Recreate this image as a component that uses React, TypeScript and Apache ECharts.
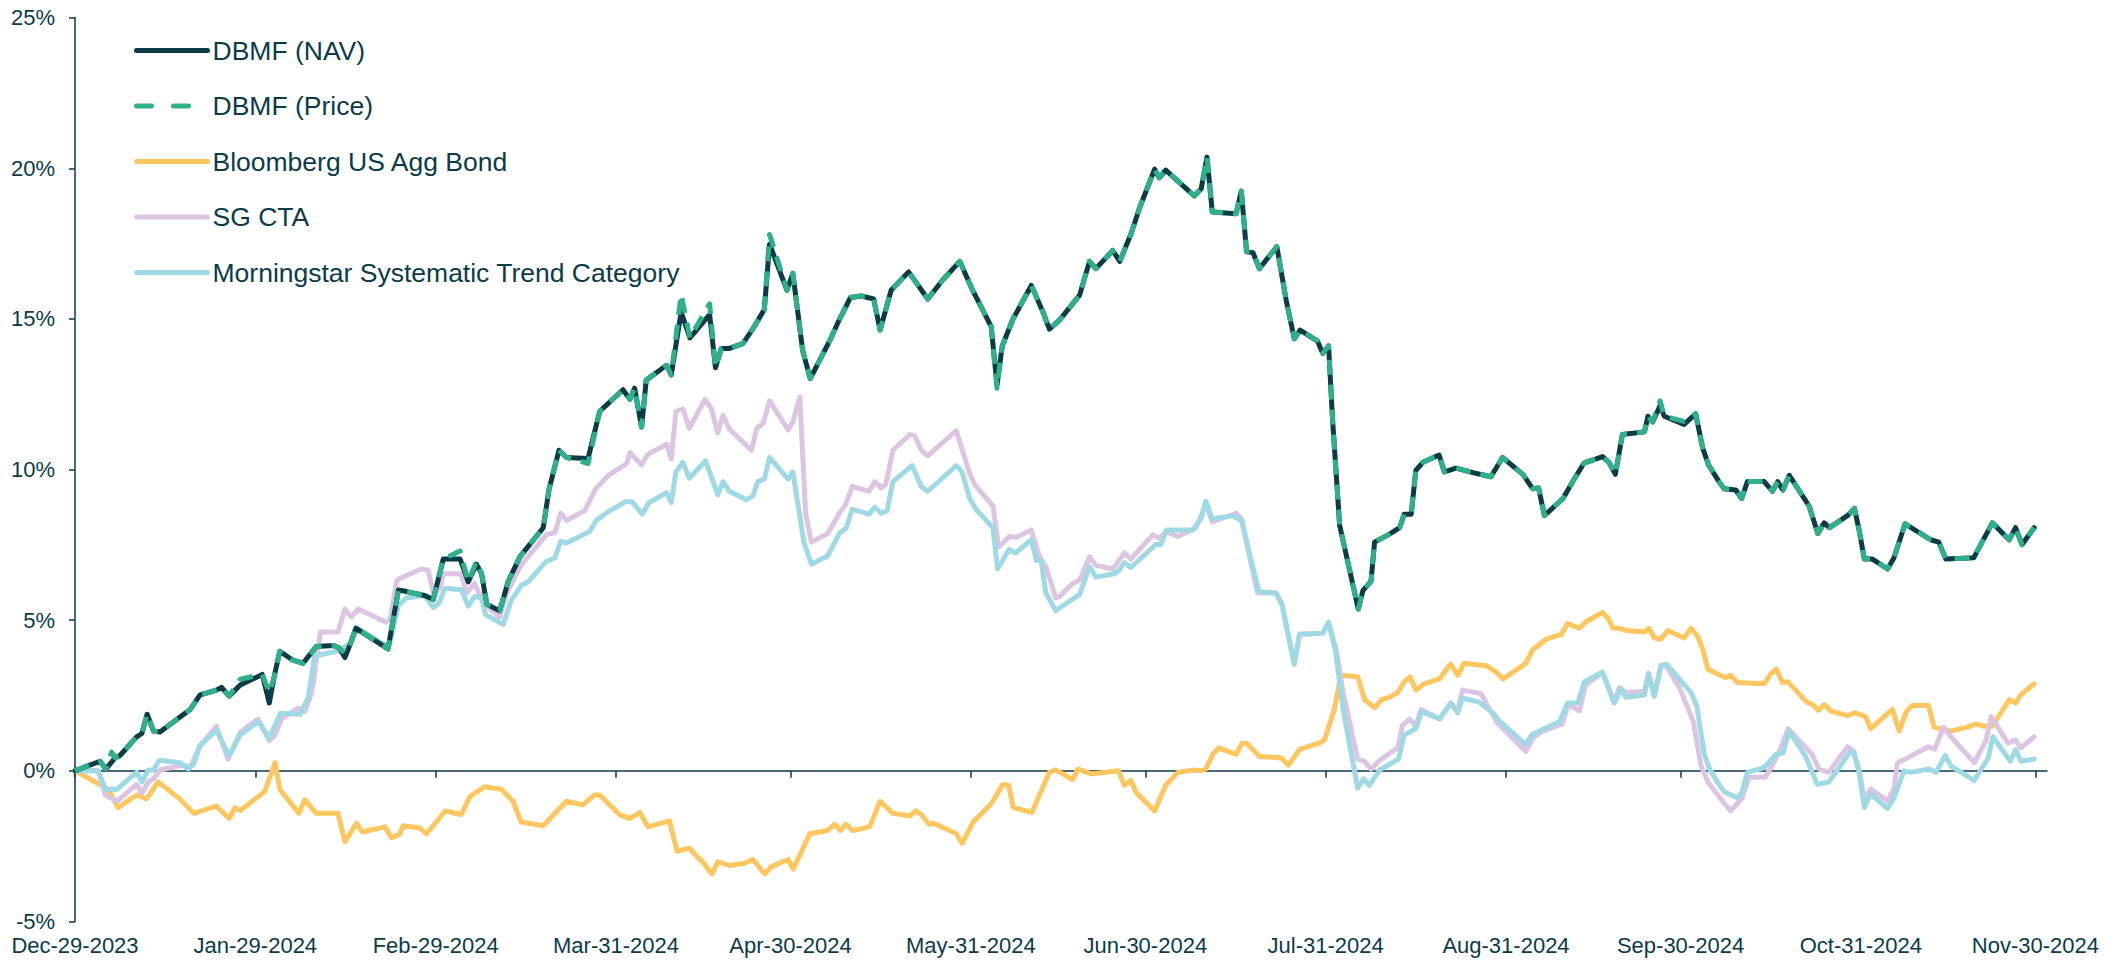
import React, { useEffect, useRef } from "react";
import * as echarts from "echarts";

// x values are calendar days since Dec-29-2023
const tickDays = [0, 31, 62, 93, 123, 154, 184, 215, 246, 276, 307, 337];
const tickLabels = [
  "Dec-29-2023", "Jan-29-2024", "Feb-29-2024", "Mar-31-2024", "Apr-30-2024", "May-31-2024",
  "Jun-30-2024", "Jul-31-2024", "Aug-31-2024", "Sep-30-2024", "Oct-31-2024", "Nov-30-2024",
];
const yTicks = [-5, 0, 5, 10, 15, 20, 25];

const dbmfNav: [number, number][] = [
  [0, 0], [4.3, 0.32], [5.3, 0.06], [6.9, 0.43], [7.7, 0.5], [10.6, 1.13], [11.5, 1.24], [12.4, 1.88], [13.5, 1.32], [14.6, 1.29],
  [19.8, 2.04], [21.5, 2.52], [24.3, 2.68], [25.2, 2.77], [26.5, 2.48], [28.4, 2.85], [32.2, 3.2], [33.4, 2.25], [34.2, 3.09], [35.2, 3.97],
  [37.4, 3.68], [39.2, 3.57], [41.5, 4.13], [44.4, 4.16], [45.4, 4.08], [46.4, 3.76], [47.5, 4.3], [48.3, 4.73], [53.8, 4.05], [55.6, 6.0],
  [57, 5.95], [60.1, 5.82], [61.6, 5.69], [63.3, 7.03], [66.2, 7.03], [67.6, 6.27], [69.0, 6.86], [69.9, 6.54], [70.8, 5.53], [73.0, 5.31],
  [74.5, 6.3], [76.5, 7.11], [80.5, 8.07], [81.5, 9.36], [83.2, 10.64], [84.5, 10.4], [88.2, 10.37], [90.2, 11.93], [94.2, 12.65], [95.4, 12.33],
  [96.2, 12.7], [97.4, 11.41], [98.2, 12.97], [101.7, 13.46], [102.5, 13.14], [104.2, 15.23], [105.7, 14.37], [109.1, 15.14], [110.1, 13.38], [111.1, 14.02],
  [112.5, 14.02], [114.8, 14.18], [116.5, 14.66], [118.5, 15.31], [119.4, 17.48], [122.4, 15.95], [123.4, 16.51], [125.1, 13.94], [126.4, 13.02], [129.7, 14.26],
  [131.4, 14.98], [133.3, 15.71], [135.2, 15.76], [137.3, 15.66], [138.4, 14.63], [140.3, 15.95], [143.3, 16.56], [146.6, 15.66], [149.2, 16.3], [152.1, 16.91],
  [154.1, 16.03], [157.5, 14.74], [158.5, 12.81], [159.4, 14.1], [161.2, 14.98], [164.4, 16.11], [166.4, 15.23], [167.5, 14.66], [169.2, 14.95], [172.7, 15.79],
  [174.4, 16.91], [175.5, 16.67], [178.4, 17.27], [179.6, 16.91], [181.5, 17.8], [183.0, 18.68], [185.6, 19.97], [186.4, 19.68], [187.5, 19.94], [192.4, 19.08],
  [193.6, 19.32], [194.6, 20.37], [195.5, 18.55], [199.6, 18.49], [200.5, 19.24], [201.4, 17.23], [202.5, 17.2], [203.6, 16.67], [206.6, 17.4], [208.2, 15.63],
  [209.6, 14.34], [210.6, 14.63], [213.6, 14.26], [214.5, 13.86], [215.5, 14.1], [216.2, 11.61], [217.4, 8.15], [220.6, 5.37], [221.4, 5.98], [222.8, 6.3],
  [223.4, 7.59], [225.9, 7.85], [227.7, 8.07], [228.5, 8.52], [229.7, 8.52], [230.5, 9.97], [231.7, 10.24], [234.5, 10.48], [235.4, 9.92], [237.4, 10.05],
  [240.3, 9.9], [243.4, 9.76], [245.4, 10.4], [248.9, 9.84], [250.6, 9.36], [251.6, 9.39], [252.6, 8.47], [255.8, 9.04], [257.7, 9.68], [259.4, 10.21],
  [262.6, 10.43], [263.7, 10.24], [264.8, 9.84], [266.0, 11.16], [269.8, 11.25], [270.4, 11.77], [271.2, 11.58], [272.5, 12.12], [273.2, 11.77], [276.6, 11.5],
  [278.6, 11.85], [279.8, 10.72], [280.8, 10.16], [282.6, 9.6], [283.5, 9.36], [285.5, 9.32], [286.5, 9.04], [287.5, 9.6], [290.4, 9.6], [291.8, 9.28],
  [292.7, 9.6], [293.6, 9.32], [294.7, 9.81], [298.1, 8.79], [299.6, 7.88], [300.7, 8.23], [301.6, 8.07], [304.7, 8.47], [305.9, 8.71], [306.7, 7.99],
  [307.6, 7.03], [309.0, 7.03], [311.6, 6.7], [312.7, 7.07], [314.6, 8.2], [319.0, 7.67], [320.4, 7.59], [321.6, 7.03], [326.4, 7.07], [329.6, 8.23],
  [332.5, 7.67], [333.6, 8.07], [334.7, 7.51], [336.8, 8.07],
];

const dbmfPrice: [number, number][] = [
  [0, 0], [4.3, 0.32], [5.3, 0.06], [6.3, 0.62], [6.9, 0.43], [7.7, 0.5], [10.6, 1.13], [11.5, 1.24], [12.4, 1.88], [13.5, 1.32], [14.6, 1.29],
  [19.8, 2.04], [21.5, 2.52], [24.3, 2.68], [25.2, 2.77], [26.5, 2.48], [28.4, 3.04], [32.2, 3.2], [33.4, 2.6], [34.2, 3.09], [35.2, 3.97],
  [37.4, 3.68], [39.2, 3.57], [41.5, 4.13], [44.4, 4.16], [45.4, 4.08], [46.4, 3.9], [47.5, 4.3], [48.3, 4.73], [53.8, 4.05], [55.6, 6.0],
  [57, 5.95], [60.1, 5.82], [61.6, 5.69], [63.3, 7.03], [66.2, 7.3], [67.6, 6.27], [69.0, 6.95], [69.9, 6.54], [70.8, 5.53], [73.0, 5.31],
  [74.5, 6.3], [76.5, 7.11], [80.5, 8.07], [81.5, 9.36], [83.2, 10.64], [84.5, 10.4], [88.2, 10.2], [90.2, 11.93], [94.2, 12.65], [95.4, 12.33],
  [96.2, 12.7], [97.4, 11.41], [98.2, 12.97], [101.7, 13.46], [102.5, 13.14], [104.2, 15.82], [105.7, 14.37], [109.1, 15.5], [110.1, 13.38], [111.1, 14.02],
  [112.5, 14.02], [114.8, 14.18], [116.5, 14.66], [118.5, 15.31], [119.4, 17.8], [122.4, 15.95], [123.4, 16.51], [125.1, 13.94], [126.4, 13.02], [129.7, 14.26],
  [131.4, 14.98], [133.3, 15.71], [135.2, 15.76], [137.3, 15.66], [138.4, 14.63], [140.3, 15.95], [143.3, 16.56], [146.6, 15.66], [149.2, 16.3], [152.1, 16.91],
  [154.1, 16.03], [157.5, 14.74], [158.5, 12.7], [159.4, 14.1], [161.2, 14.98], [164.4, 16.11], [166.4, 15.23], [167.5, 14.66], [169.2, 14.95], [172.7, 15.79],
  [174.4, 16.91], [175.5, 16.67], [178.4, 17.27], [179.6, 16.91], [181.5, 17.8], [183.0, 18.68], [185.6, 19.97], [186.4, 19.68], [187.5, 19.94], [192.4, 19.08],
  [193.6, 19.32], [194.6, 20.37], [195.5, 18.55], [199.6, 18.49], [200.5, 19.24], [201.4, 17.23], [202.5, 17.2], [203.6, 16.67], [206.6, 17.4], [208.2, 15.63],
  [209.6, 14.34], [210.6, 14.63], [213.6, 14.26], [214.5, 13.86], [215.5, 14.1], [216.2, 11.61], [217.4, 8.15], [220.6, 5.37], [221.4, 5.98], [222.8, 6.3],
  [223.4, 7.59], [225.9, 7.85], [227.7, 8.07], [228.5, 8.52], [229.7, 8.52], [230.5, 9.97], [231.7, 10.24], [234.5, 10.48], [235.4, 9.92], [237.4, 10.05],
  [240.3, 9.9], [243.4, 9.76], [245.4, 10.4], [248.9, 9.84], [250.6, 9.36], [251.6, 9.39], [252.6, 8.47], [255.8, 9.04], [257.7, 9.68], [259.4, 10.21],
  [262.6, 10.43], [263.7, 10.24], [264.8, 9.84], [266.0, 11.16], [269.8, 11.25], [270.4, 11.77], [271.2, 11.58], [272.5, 12.28], [273.2, 11.77], [276.6, 11.6],
  [278.6, 11.85], [279.8, 10.72], [280.8, 10.16], [282.6, 9.6], [283.5, 9.36], [285.5, 9.32], [286.5, 9.04], [287.5, 9.6], [290.4, 9.6], [291.8, 9.28],
  [292.7, 9.6], [293.6, 9.32], [294.7, 9.81], [298.1, 8.79], [299.6, 7.88], [300.7, 8.23], [301.6, 8.07], [304.7, 8.47], [305.9, 8.71], [306.7, 7.99],
  [307.6, 7.03], [309.0, 7.03], [311.6, 6.7], [312.7, 7.07], [314.6, 8.2], [319.0, 7.67], [320.4, 7.59], [321.6, 7.03], [326.4, 7.07], [329.6, 8.23],
  [332.5, 7.67], [333.6, 8.07], [334.7, 7.51], [336.8, 8.07],
];

const bloombergAgg: [number, number][] = [
  [0, 0], [5.7, -0.61], [7.4, -1.22], [10.6, -0.8], [12.3, -0.93], [14.3, -0.37], [18.0, -0.93], [20.4, -1.41], [24.3, -1.17], [26.5, -1.58],
  [27.5, -1.22], [28.4, -1.32], [32.6, -0.69], [34.4, 0.27], [35.2, -0.61], [38.5, -1.41], [39.5, -0.96], [41.5, -1.41], [45.2, -1.41], [46.4, -2.35],
  [48.4, -1.74], [49.4, -2.03], [53.3, -1.86], [54.4, -2.22], [55.8, -2.1], [56.4, -1.82], [59.3, -1.9], [60.4, -2.09], [61.6, -1.82], [63.6, -1.33],
  [66.4, -1.45], [67.9, -0.85], [70.4, -0.53], [73.3, -0.61], [75.3, -1.01], [76.7, -1.7], [80.5, -1.82], [82.5, -1.41], [84.5, -1.01], [87.3, -1.13],
  [89.3, -0.8], [90.2, -0.8], [93.6, -1.45], [95.4, -1.58], [97.1, -1.38], [98.5, -1.86], [102.2, -1.66], [103.5, -2.67], [105.6, -2.57], [108.0, -3.05],
  [109.5, -3.42], [110.5, -3.02], [112.5, -3.14], [115.1, -3.07], [116.5, -2.94], [118.6, -3.42], [119.7, -3.18], [122.6, -2.94], [123.5, -3.26], [126.3, -2.09],
  [129.4, -1.98], [130.6, -1.77], [131.6, -1.98], [132.5, -1.77], [133.7, -1.98], [136.6, -1.86], [138.4, -1.01], [140.6, -1.41], [143.5, -1.5], [144.5, -1.33],
  [145.5, -1.45], [146.8, -1.77], [147.6, -1.74], [151.5, -2.09], [152.5, -2.41], [154.4, -1.7], [157.5, -1.09], [159.5, -0.45], [160.5, -0.48], [161.3, -1.22],
  [164.5, -1.38], [167.5, -0.05], [168.6, 0.03], [171.5, -0.29], [172.4, 0.06], [174.7, -0.1], [179.4, 0.0], [180.4, -0.48], [181.5, -0.32], [182.5, -0.74],
  [185.6, -1.33], [187.5, -0.48], [189.6, -0.05], [192.4, 0.03], [193.6, 0.0], [194.4, 0.06], [195.6, 0.55], [196.6, 0.76], [199.6, 0.55], [200.6, 0.92],
  [201.4, 0.92], [203.6, 0.48], [207.4, 0.43], [208.6, 0.19], [210.5, 0.71], [213.9, 0.92], [214.8, 1.03], [216.5, 2.04], [217.6, 3.17], [220.5, 3.12],
  [221.7, 2.36], [223.4, 2.09], [224.6, 2.36], [225.9, 2.44], [227.4, 2.6], [228.5, 2.96], [229.5, 3.12], [230.5, 2.68], [231.9, 2.89], [234.6, 3.05],
  [236.0, 3.44], [236.5, 3.54], [237.7, 3.17], [238.8, 3.57], [242.6, 3.49], [244.3, 3.28], [245.5, 3.05], [249.4, 3.57], [250.6, 4.02], [252.9, 4.37],
  [255.5, 4.53], [256.6, 4.89], [258.6, 4.73], [259.7, 4.94], [262.6, 5.26], [263.6, 5.05], [264.4, 4.73], [265.5, 4.73], [266.6, 4.66], [269.8, 4.61],
  [270.6, 4.73], [271.5, 4.41], [272.6, 4.37], [273.8, 4.66], [276.6, 4.41], [277.8, 4.73], [279.0, 4.45], [279.8, 4.05], [280.7, 3.38], [282.6, 3.19],
  [283.8, 3.09], [284.6, 3.17], [285.8, 2.93], [290.4, 2.89], [291.5, 3.22], [292.5, 3.38], [293.5, 2.93], [294.4, 2.96], [297.7, 2.28], [298.7, 2.2],
  [299.7, 2.01], [300.7, 2.2], [301.8, 1.99], [304.7, 1.83], [305.9, 1.93], [307.8, 1.8], [308.7, 1.4], [312.4, 2.04], [313.6, 1.32], [314.8, 1.96],
  [315.8, 2.17], [318.6, 2.17], [319.6, 1.45], [322.5, 1.32], [325.3, 1.45], [326.8, 1.56], [328.2, 1.48], [329.6, 1.48], [332.5, 2.36], [333.6, 2.25],
  [334.5, 2.52], [336.8, 2.89],
];

const sgCta: [number, number][] = [
  [0, 0], [4.0, 0.0], [5.2, -0.8], [7.2, -1.01], [10.6, -0.45], [11.5, -0.74], [12.6, -0.37], [13.5, -0.26], [14.6, 0.03], [18.6, 0.19],
  [19.8, 0.11], [21.5, 0.84], [24.3, 1.48], [26.3, 0.39], [28.4, 1.29], [31.5, 1.72], [33.4, 1.0], [34.4, 1.19], [35.5, 1.72], [38.4, 2.09],
  [39.5, 1.96], [40.7, 2.6], [42.2, 4.61], [45.2, 4.61], [46.4, 5.37], [47.5, 5.1], [48.7, 5.37], [53.4, 4.94], [54.2, 5.02], [55.3, 6.3],
  [55.8, 6.38], [59.5, 6.7], [60.7, 6.66], [61.6, 5.9], [62.7, 6.06], [63.3, 6.54], [66.4, 6.54], [67.3, 5.9], [68.7, 6.22], [70.2, 5.58],
  [73.0, 5.1], [74.2, 5.9], [76.8, 6.86], [79.3, 7.43], [81.0, 7.83], [82.5, 7.91], [83.5, 8.55], [84.5, 8.31], [87.6, 8.63], [89.6, 9.39],
  [91.9, 9.84], [94.8, 10.19], [95.4, 10.56], [97.4, 10.16], [98.5, 10.51], [101.7, 10.84], [102.5, 10.35], [103.3, 11.93], [104.5, 12.01], [105.6, 11.37],
  [108.3, 12.33], [109.4, 12.01], [110.5, 11.21], [111.4, 11.8], [112.5, 11.34], [116.3, 10.64], [117.2, 11.37], [118.3, 11.53], [119.4, 12.28], [122.6, 11.32],
  [123.4, 11.58], [124.6, 12.41], [125.6, 8.55], [126.6, 7.59], [129.4, 7.88], [131.4, 8.55], [132.5, 8.84], [133.6, 9.44], [136.5, 9.28], [137.5, 9.6],
  [138.6, 9.39], [139.4, 9.52], [140.6, 10.64], [143.5, 11.16], [144.3, 11.13], [145.5, 10.64], [146.6, 10.45], [151.5, 11.29], [153.8, 9.87], [154.7, 9.49],
  [157.8, 8.79], [158.8, 7.43], [160.6, 7.78], [161.8, 7.75], [164.4, 7.99], [165.8, 7.11], [166.9, 6.78], [168.6, 5.74], [169.2, 5.78], [171.5, 6.22],
  [172.7, 6.33], [174.4, 7.11], [175.5, 6.82], [178.4, 6.7], [180.4, 7.23], [181.5, 7.03], [185.3, 7.83], [186.4, 7.72], [187.6, 7.94], [189.6, 7.78],
  [192.7, 8.07], [194.4, 8.84], [195.5, 8.26], [199.6, 8.55], [200.6, 8.36], [201.9, 7.11], [203.3, 5.9], [206.5, 5.9], [207.5, 5.5], [209.6, 3.54],
  [210.5, 4.53], [214.5, 4.57], [215.5, 4.89], [216.8, 4.05], [218.0, 2.6], [220.5, 0.39], [221.7, 0.31], [222.8, 0.06], [224.3, 0.35], [225.9, 0.57],
  [227.4, 0.76], [228.2, 1.51], [229.4, 1.72], [230.5, 1.48], [231.4, 2.04], [234.6, 1.72], [236.5, 2.25], [237.7, 1.99], [238.5, 2.68], [241.7, 2.57],
  [244.3, 1.64], [249.4, 0.64], [250.6, 1.08], [252.3, 1.32], [255.7, 1.56], [256.7, 2.2], [258.6, 1.99], [259.7, 2.85], [262.6, 3.25], [264.6, 2.28],
  [265.5, 2.77], [266.6, 2.6], [269.8, 2.64], [270.5, 3.25], [271.5, 2.48], [272.6, 3.49], [273.5, 3.49], [275.8, 2.77], [278.2, 1.64], [279.5, 0.19],
  [280.7, -0.37], [282.6, -0.85], [284.6, -1.33], [286.6, -0.9], [287.8, -0.21], [290.6, -0.21], [292.9, 0.59], [294.5, 1.4], [298.6, 0.55], [299.8, 0.06],
  [301.5, -0.05], [304.7, 0.8], [305.8, 0.64], [306.7, 0.03], [307.6, -0.95], [308.7, -0.6], [311.6, -1.0], [312.7, -0.6], [313.3, 0.27], [315.0, 0.43],
  [318.6, 0.8], [319.7, 0.72], [321.2, 1.45], [322.5, 1.13], [326.5, 0.27], [328.5, 1.0], [329.4, 1.8], [332.3, 0.92], [333.6, 1.03], [334.5, 0.76],
  [336.8, 1.13],
];

const morningstarTrend: [number, number][] = [
  [0, 0], [4.0, 0.0], [5.2, -0.61], [7.2, -0.61], [10.6, -0.05], [11.5, -0.37], [12.6, 0.03], [13.5, 0.03], [14.5, 0.35], [18.0, 0.27],
  [19.5, 0.06], [20.4, 0.23], [21.5, 0.84], [24.3, 1.35], [26.5, 0.51], [28.4, 1.19], [31.5, 1.64], [33.4, 1.08], [35.3, 1.91], [38.7, 1.88],
  [40.1, 2.44], [41.2, 3.81], [45.0, 3.97], [47.3, 4.21], [48.3, 4.77], [52.7, 4.24], [54.0, 4.13], [55.6, 5.5], [57.0, 5.74], [60.1, 5.82],
  [61.6, 5.42], [62.6, 5.58], [63.6, 6.06], [66.4, 6.01], [67.6, 5.47], [68.7, 5.79], [69.9, 5.74], [70.6, 5.18], [73.6, 4.86], [75.0, 5.66],
  [76.8, 6.17], [77.9, 6.27], [81.0, 6.95], [82.5, 7.07], [83.5, 7.62], [84.5, 7.56], [88.5, 7.94], [89.6, 8.31], [91.9, 8.63], [94.8, 8.95],
  [95.9, 8.91], [97.5, 8.52], [98.7, 8.91], [101.7, 9.23], [102.5, 8.91], [103.3, 9.92], [104.5, 10.24], [105.6, 9.71], [108.4, 10.29], [109.4, 9.76],
  [110.5, 9.16], [111.4, 9.6], [112.5, 9.28], [115.4, 9.0], [116.5, 9.12], [117.4, 9.6], [118.5, 9.68], [119.4, 10.4], [122.6, 9.68], [123.4, 9.92],
  [125.3, 7.59], [126.6, 6.86], [129.4, 7.14], [131.4, 7.88], [132.6, 8.07], [133.6, 8.68], [136.5, 8.52], [137.5, 8.75], [138.6, 8.55], [139.6, 8.63],
  [140.6, 9.6], [143.9, 10.13], [145.5, 9.44], [146.6, 9.28], [151.5, 10.13], [152.5, 9.92], [153.8, 9.04], [154.9, 8.68], [157.8, 8.07], [158.6, 6.7],
  [160.6, 7.35], [161.7, 7.23], [164.4, 7.67], [165.3, 6.98], [166.1, 6.98], [166.9, 5.9], [168.6, 5.31], [169.2, 5.4], [172.7, 5.85], [174.4, 6.78],
  [175.5, 6.43], [178.7, 6.54], [179.5, 6.66], [180.4, 6.91], [181.5, 6.75], [185.8, 7.51], [186.7, 7.51], [187.6, 7.99], [192.2, 7.99], [193.6, 8.39],
  [194.4, 8.95], [195.5, 8.36], [199.0, 8.47], [200.5, 8.31], [202.2, 6.98], [203.5, 5.95], [206.4, 5.9], [207.5, 5.53], [209.6, 3.54], [210.5, 4.53],
  [214.5, 4.57], [215.5, 4.94], [216.7, 3.97], [218.0, 2.04], [220.5, -0.58], [221.5, -0.26], [222.5, -0.48], [224.3, 0.03], [225.9, 0.21], [227.5, 0.39],
  [228.5, 1.19], [230.5, 1.4], [231.5, 1.96], [234.6, 1.72], [236.5, 2.25], [237.7, 1.93], [238.5, 2.41], [241.4, 2.28], [243.7, 1.93], [244.8, 1.67],
  [249.4, 0.87], [250.4, 1.19], [252.0, 1.35], [255.2, 1.64], [256.6, 2.25], [258.3, 2.25], [259.5, 2.96], [262.6, 3.28], [264.6, 2.25], [265.8, 2.73],
  [266.6, 2.44], [269.8, 2.52], [270.5, 3.22], [271.5, 2.48], [272.6, 3.49], [273.6, 3.54], [277.8, 2.6], [278.8, 2.15], [280.1, 0.55], [281.0, 0.06],
  [282.6, -0.45], [283.5, -0.69], [285.8, -0.9], [286.6, -0.69], [287.5, -0.05], [290.4, 0.11], [292.4, 0.55], [293.6, 0.59], [294.7, 1.32], [297.5, 0.48],
  [299.5, -0.45], [301.5, -0.37], [305.2, 0.64], [305.8, 0.59], [306.7, -0.05], [307.6, -1.22], [308.7, -0.77], [311.6, -1.25], [312.7, -0.9], [314.4, 0.0],
  [315.6, -0.05], [318.7, 0.06], [319.9, -0.05], [321.5, 0.51], [322.5, 0.16], [326.5, -0.32], [328.9, 0.43], [329.7, 1.13], [332.7, 0.32], [333.6, 0.71],
  [334.5, 0.32], [336.8, 0.39],
];

const TEXT = "#0b3b48";
const FONT = "Liberation Sans, Arial, sans-serif";

export default function App() {
  const ref = useRef<HTMLDivElement>(null);
  useEffect(() => {
    if (!ref.current) return;
    const chart = echarts.init(ref.current, undefined, { renderer: "svg" });
    const labelFor = (v: number) => {
      const i = tickDays.indexOf(Math.round(v));
      return i >= 0 ? tickLabels[i] : "";
    };
    const mk = (name: string, data: [number, number][], color: string, width: number, dashed = false, z = 2) => ({
      name,
      type: "line",
      data,
      xAxisIndex: 0,
      showSymbol: false,
      symbol: "none",
      z,
      lineStyle: {
        color,
        width,
        type: dashed ? [15, 10] : "solid",
        cap: dashed ? "butt" : "round",
        join: "round",
      },
      itemStyle: { color },
    });
    chart.setOption({
      animation: false,
      backgroundColor: "#ffffff",
      textStyle: { fontFamily: FONT },
      grid: { left: 75, right: 81, top: 17.6, bottom: 46.5, containLabel: false, outerBoundsMode: "none" },
      legend: {
        orient: "vertical",
        left: 134,
        top: 37,
        padding: 0,
        itemWidth: 71,
        itemHeight: 26,
        itemGap: 28.5,
        selectedMode: false,
        itemStyle: { opacity: 0 },
        lineStyle: { width: 5, cap: "round" },
        data: [
          { name: "DBMF (NAV)" },
          { name: "DBMF (Price)", lineStyle: { width: 5, cap: "round", type: [15, 22] } },
          { name: "Bloomberg US Agg Bond" },
          { name: "SG CTA" },
          { name: "Morningstar Systematic Trend Category" },
        ],
        textStyle: { color: TEXT, fontSize: 26.5, fontFamily: FONT },
      },
      xAxis: [
        {
          type: "value",
          min: 0,
          max: 339,
          position: "bottom",
          axisLine: { show: true, onZero: true, lineStyle: { color: TEXT, width: 1.5 } },
          axisTick: { show: true, customValues: tickDays, length: 7, lineStyle: { color: TEXT, width: 1.5 } },
          axisLabel: { show: false },
          splitLine: { show: false },
        },
        {
          type: "value",
          min: 0,
          max: 339,
          position: "bottom",
          axisLine: { show: false, onZero: false },
          axisTick: { show: false },
          axisLabel: {
            show: true,
            customValues: tickDays,
            formatter: labelFor,
            color: TEXT,
            fontSize: 22,
            fontFamily: FONT,
            margin: 13,
          },
          splitLine: { show: false },
        },
      ],
      yAxis: {
        type: "value",
        min: -5,
        max: 25,
        interval: 5,
        axisLine: { show: true, lineStyle: { color: TEXT, width: 1.5 } },
        axisTick: { show: true, length: 6, lineStyle: { color: TEXT, width: 1.5 } },
        axisLabel: {
          color: TEXT,
          fontSize: 22,
          fontFamily: FONT,
          margin: 20,
          formatter: (v: number) => (yTicks.includes(v) ? `${v}%` : ""),
        },
        splitLine: { show: false },
      },
      series: [
        mk("Bloomberg US Agg Bond", bloombergAgg, "#fdc65f", 5, false, 2),
        mk("SG CTA", sgCta, "#dcc5e2", 5, false, 3),
        mk("Morningstar Systematic Trend Category", morningstarTrend, "#9fd9e4", 5, false, 4),
        mk("DBMF (NAV)", dbmfNav, "#0b3b46", 5, false, 5),
        mk("DBMF (Price)", dbmfPrice, "#2fb08a", 5, true, 6),
      ],
    });
    return () => chart.dispose();
  }, []);
  return <div ref={ref} style={{ position: "absolute", left: 0, top: 0, width: 2128, height: 968 }} />;
}
